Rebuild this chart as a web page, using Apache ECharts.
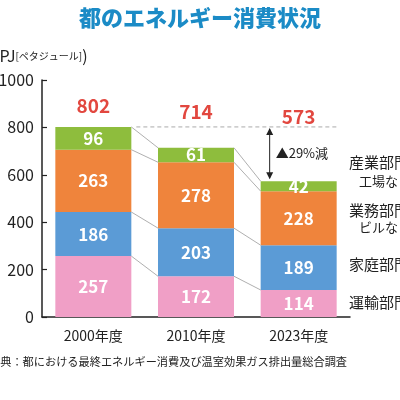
<!DOCTYPE html>
<html>
<head>
<meta charset="utf-8">
<script src="https://cdn.jsdelivr.net/npm/echarts@6/dist/echarts.min.js"></script>
<style>
  html, body { margin: 0; padding: 0; background: #fff; }
  #chart { width: 400px; height: 400px; }
</style>
</head>
<body>
<div id="chart"></div>
<script>
const categories = ['2000年度', '2010年度', '2023年度'];
const transport = [257, 172, 114];   // 運輸部門
const household = [186, 203, 189];   // 家庭部門
const business = [263, 278, 228];    // 業務部門
const industry = [96, 61, 42];       // 産業部門
const sectorNames = ['運輸部門', '家庭部門', '業務部門', '産業部門'];
const reductionText = '▲29%減';

const FONT = '"Noto Sans CJK JP", "Noto Sans", sans-serif';
const colors = ['#f09fc6', '#5b9bd6', '#ef843c', '#8ebd3d'];
const BAR_W = 76;

const stacks = [transport, household, business, industry];
// cumulative tops for each segment, per category
const tops = categories.map((c, i) => {
  let s = 0;
  return stacks.map(arr => (s += arr[i]));
});
const totals = tops.map(t => t[t.length - 1]);

const chart = echarts.init(document.getElementById('chart'));

const barSeries = stacks.map((arr, k) => ({
  name: sectorNames[k],
  type: 'bar',
  stack: 'total',
  barWidth: BAR_W,
  data: arr,
  itemStyle: { color: colors[k] },
  label: {
    show: true,
    position: 'inside',
    color: '#fff',
    fontFamily: FONT,
    fontWeight: 'bold',
    fontSize: 17
  },
  z: 2
}));

// thin grey connectors between the tops of matching segments
const connectorSeries = {
  type: 'custom',
  data: [[0, 0], [1, 0]],
  silent: true,
  z: 3,
  renderItem: function (params, api) {
    const i = params.dataIndex;
    const children = tops[i].map((v, k) => {
      const p1 = api.coord([i, v]);
      const p2 = api.coord([i + 1, tops[i + 1][k]]);
      return {
        type: 'line',
        shape: { x1: p1[0] + BAR_W / 2, y1: p1[1], x2: p2[0] - BAR_W / 2, y2: p2[1] },
        style: { stroke: '#9a9a9a', lineWidth: 0.8 }
      };
    });
    return { type: 'group', children: children };
  }
};

// totals in red above the bars
const totalSeries = {
  type: 'custom',
  data: totals.map((v, i) => [i, v]),
  silent: true,
  z: 4,
  renderItem: function (params, api) {
    const i = params.dataIndex;
    const p = api.coord([i, 893 - 25 * i]);
    return {
      type: 'text',
      style: {
        text: String(api.value(1)),
        x: p[0], y: p[1],
        align: 'center', verticalAlign: 'middle',
        fill: '#e2473f',
        font: 'bold 19px ' + FONT
      }
    };
  }
};

// dashed reference at 2000 level, double arrow and reduction text
const reductionSeries = {
  type: 'custom',
  data: [[0, totals[0]]],
  silent: true,
  z: 4,
  renderItem: function (params, api) {
    const last = categories.length - 1;
    const a = api.coord([0, totals[0]]);
    const b = api.coord([last, totals[0]]);
    const c = api.coord([last, totals[last]]);
    const ax = c[0] - BAR_W / 2 + 9;
    const h = 3.5, hl = 7;
    return {
      type: 'group',
      children: [
        {
          type: 'line',
          shape: { x1: a[0] + BAR_W / 2 + 5, y1: a[1], x2: b[0] + BAR_W / 2, y2: b[1] },
          style: { stroke: '#aaa', lineWidth: 1, lineDash: [4, 3] }
        },
        {
          type: 'line',
          shape: { x1: ax, y1: b[1] + 2, x2: ax, y2: c[1] - 3 },
          style: { stroke: '#222', lineWidth: 1 }
        },
        {
          type: 'polygon',
          shape: { points: [[ax, b[1] + 1], [ax - h, b[1] + 1 + hl], [ax + h, b[1] + 1 + hl]] },
          style: { fill: '#222' }
        },
        {
          type: 'polygon',
          shape: { points: [[ax, c[1] - 2], [ax - h, c[1] - 2 - hl], [ax + h, c[1] - 2 - hl]] },
          style: { fill: '#222' }
        },
        {
          type: 'text',
          style: {
            text: reductionText,
            x: ax + 6, y: (b[1] + c[1]) / 2 - 1,
            align: 'left', verticalAlign: 'middle',
            fill: '#222',
            font: '13px ' + FONT
          }
        }
      ]
    };
  }
};

const option = {
  animation: false,
  grid: { left: 42, right: 50, top: 80, bottom: 83, outerBoundsMode: 'none' },
  xAxis: {
    type: 'category',
    data: categories,
    axisLine: { lineStyle: { color: '#222', width: 1.5 } },
    axisTick: { show: false },
    axisLabel: { color: '#222', fontFamily: FONT, fontSize: 14, margin: 12 }
  },
  yAxis: {
    type: 'value',
    min: 0,
    max: 1000,
    interval: 200,
    axisLine: { show: true, lineStyle: { color: '#222', width: 1.5 } },
    axisTick: { show: true, inside: true, length: 5, lineStyle: { color: '#222', width: 1.2 } },
    splitLine: { show: false },
    axisLabel: {
      color: '#222', fontFamily: FONT, fontSize: 16, margin: 8,
      formatter: v => String(v)
    }
  },
  graphic: [
    {
      type: 'text', left: 'center', top: 7,
      style: { text: '都のエネルギー消費状況', fill: '#1b8bc6', font: '900 22px ' + FONT }
    },
    {
      type: 'text', x: -6, y: 48,
      style: {
        text: '{a|(PJ}{b|[ペタジュール]}{a|)}',
        rich: {
          a: { fontFamily: FONT, fontSize: 16, fill: '#222' },
          b: { fontFamily: FONT, fontSize: 10, fill: '#222' }
        }
      }
    },
    { type: 'text', x: 349, y: 155, style: { text: sectorNames[3], fill: '#222', font: '15px ' + FONT } },
    { type: 'text', x: 359, y: 175, style: { text: '工場など', fill: '#222', font: '13px ' + FONT } },
    { type: 'text', x: 349, y: 203, style: { text: sectorNames[2], fill: '#222', font: '15px ' + FONT } },
    { type: 'text', x: 359, y: 221, style: { text: 'ビルなど', fill: '#222', font: '13px ' + FONT } },
    { type: 'text', x: 349, y: 257, style: { text: sectorNames[1], fill: '#222', font: '15px ' + FONT } },
    { type: 'text', x: 349, y: 295, style: { text: sectorNames[0], fill: '#222', font: '15px ' + FONT } },
    {
      type: 'text', x: -11, y: 356,
      style: {
        text: '出典：都における最終エネルギー消費及び温室効果ガス排出量総合調査',
        fill: '#222', font: '11.2px ' + FONT
      }
    }
  ],
  series: barSeries.concat([connectorSeries, totalSeries, reductionSeries])
};

chart.setOption(option);
</script>
</body>
</html>
